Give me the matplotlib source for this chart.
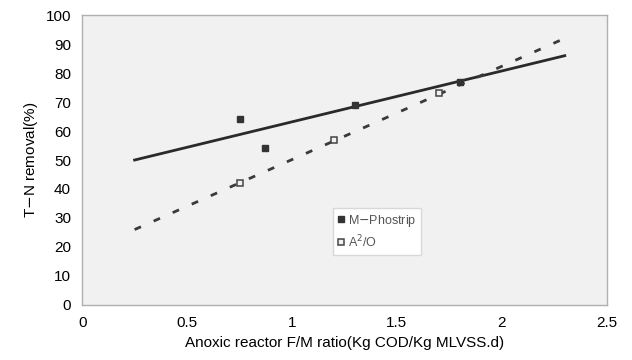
import matplotlib
matplotlib.use("Agg")
import matplotlib.pyplot as plt

plt.rcParams['font.family'] = ['Liberation Sans', 'DejaVu Sans']

# data
phostrip_x = [0.75, 0.87, 1.3, 1.8]
phostrip_y = [64, 54, 69, 77]
a2o_x = [0.75, 1.2, 1.7]
a2o_y = [42, 57, 73]

# trend lines (end points)
phostrip_fit_x = [0.25, 2.3]
phostrip_fit_y = [50, 86]
a2o_fit_x = [0.25, 2.3]
a2o_fit_y = [26, 92]

x_ticks = [0, 0.5, 1, 1.5, 2, 2.5]
x_tick_labels = ['0', '0.5', '1', '1.5', '2', '2.5']
y_ticks = list(range(0, 101, 10))

fig = plt.figure(figsize=(6.32, 3.6), dpi=100)
ax = fig.add_axes([0.130, 0.153, 0.830, 0.805])
ax.set_facecolor('#f1f1f1')

ax.plot(phostrip_fit_x, phostrip_fit_y, color='#2a2a2a', lw=2)
ax.plot(a2o_fit_x, a2o_fit_y, color='#3a3a3a', lw=2, dashes=(2.5, 5))

ax.plot(phostrip_x, phostrip_y, 's', color='#333333', ms=5, label='M$-$Phostrip', zorder=5)
ax.plot(a2o_x, a2o_y, 's', mfc='#f1f1f1', mec='#444444', mew=1.1, ms=5, label='A$^2$/O', zorder=5)

ax.set_xlim(0, 2.5)
ax.set_ylim(0, 100)
ax.set_xticks(x_ticks)
ax.set_xticklabels(x_tick_labels)
ax.set_yticks(y_ticks)
ax.tick_params(length=0, labelsize=11, pad=8)
for s in ax.spines.values():
    s.set_color('#b0b0b0')
    s.set_linewidth(1)

ax.set_xlabel('Anoxic reactor F/M ratio(Kg COD/Kg MLVSS.d)', fontsize=11)
ax.set_ylabel('T$-$N removal(%)', fontsize=11)

leg = ax.legend(loc='upper left', bbox_to_anchor=(0.478, 0.335), fontsize=9,
                handlelength=0.5, handletextpad=0.3, borderpad=0.4,
                labelspacing=0.35, borderaxespad=0,
                fancybox=False, framealpha=1, edgecolor='#d8d8d8')
for t in leg.get_texts():
    t.set_color('#555555')

fig.savefig('out.png', dpi=100)
